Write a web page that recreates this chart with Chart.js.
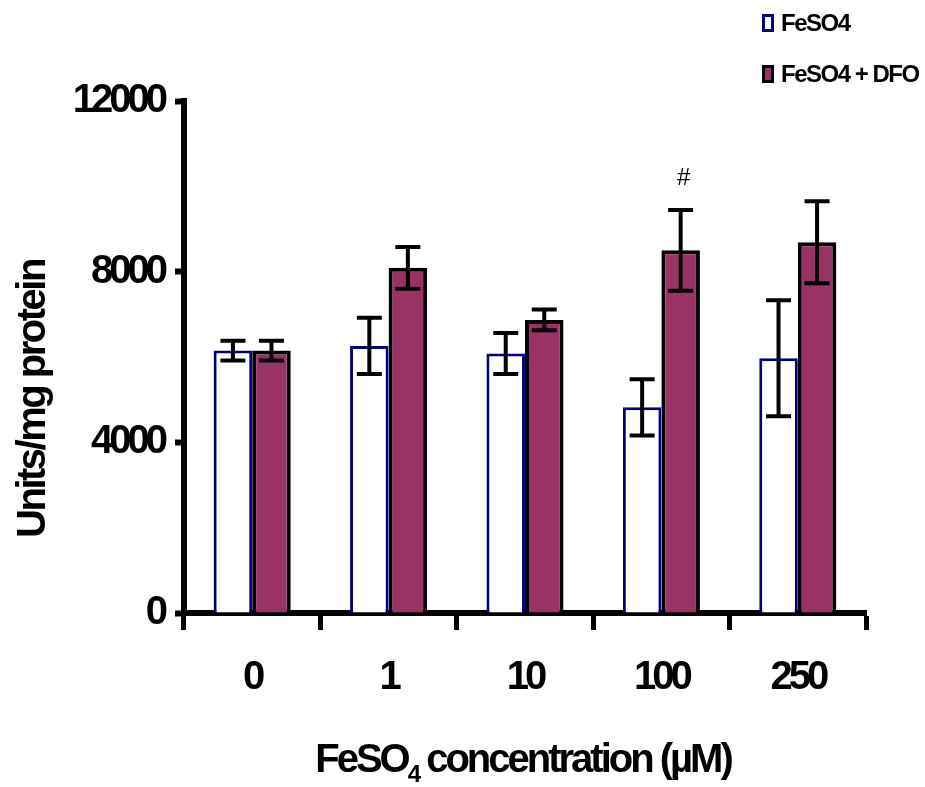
<!DOCTYPE html>
<html>
<head>
<meta charset="utf-8">
<script src="https://cdn.jsdelivr.net/npm/chart.js@4/dist/chart.umd.min.js"></script>
<style>
  html, body { margin:0; padding:0; background:#fff; }
  canvas { display:block; }
</style>
</head>
<body>
<canvas id="chart" width="925" height="787"></canvas>
<script>
// données
const categories  = ['0', '1', '10', '100', '250'];
const feso4Values = [6150, 6260, 6080, 4820, 5970];
const feso4Errors = [230, 660, 480, 660, 1360];
const dfoValues   = [6150, 8090, 6870, 8500, 8690];
const dfoErrors   = [230, 490, 245, 945, 960];
const dfoMarks    = ['', '', '', '#', ''];
const yTicks      = [0, 4000, 8000, 12000];
const seriesNames = ['FeSO4', 'FeSO4 + DFO'];

const FONT = "'Liberation Sans', Arial, Helvetica, sans-serif";
const NAVY = '#000080';
const PLUM = '#993366';

function setSpacing(ctx, px){ if ('letterSpacing' in ctx) ctx.letterSpacing = px; }

// espacement serré des lettres (comme la figure)
const spacingPlugin = {
  id: 'spacing',
  beforeUpdate(chart){ setSpacing(chart.ctx, '-4px'); },
  beforeDraw(chart){ setSpacing(chart.ctx, '-4px'); }
};

// barres d'erreur + annotation "#"
const errorBars = {
  id: 'errorBars',
  afterDatasetsDraw(chart){
    const ctx = chart.ctx, y = chart.scales.y;
    const errs = [feso4Errors, dfoErrors];
    const vals = [feso4Values, dfoValues];
    ctx.save();
    ctx.strokeStyle = '#000';
    ctx.lineWidth = 4;
    ctx.lineCap = 'butt';
    chart.data.datasets.forEach((ds, di) => {
      chart.getDatasetMeta(di).data.forEach((bar, i) => {
        const top = y.getPixelForValue(vals[di][i] + errs[di][i]);
        const bot = y.getPixelForValue(vals[di][i] - errs[di][i]);
        const x = bar.x, half = 12.5;
        ctx.beginPath();
        ctx.moveTo(x, top); ctx.lineTo(x, bot);
        ctx.moveTo(x - half, top); ctx.lineTo(x + half, top);
        ctx.moveTo(x - half, bot); ctx.lineTo(x + half, bot);
        ctx.stroke();
        if (di === 1 && dfoMarks[i]) {
          ctx.fillStyle = '#000';
          ctx.font = '24px ' + FONT;
          setSpacing(ctx, '0px');
          ctx.textAlign = 'center';
          ctx.textBaseline = 'middle';
          ctx.fillText(dfoMarks[i], x + 3, top - 32);
        }
      });
    });
    ctx.restore();
  }
};

// titres des axes et légende
const decorations = {
  id: 'decorations',
  afterDraw(chart){
    const ctx = chart.ctx, area = chart.chartArea;
    ctx.save();
    ctx.fillStyle = '#000';

    // titre axe Y
    ctx.save();
    setSpacing(ctx, '-2.5px');
    ctx.translate(34, 399);
    ctx.rotate(-Math.PI / 2);
    ctx.font = 'bold 40px ' + FONT;
    ctx.textAlign = 'center';
    ctx.textBaseline = 'middle';
    ctx.fillText('Units/mg protein', 0, 0);
    ctx.restore();

    // titre axe X avec indice
    setSpacing(ctx, '-3px');
    const big = 'bold 40px ' + FONT, small = 'bold 24px ' + FONT;
    const p1 = 'FeSO', p2 = '4', p3 = ' concentration (\u00B5M)';
    ctx.font = big; const w1 = ctx.measureText(p1).width, w3 = ctx.measureText(p3).width;
    ctx.font = small; const w2 = ctx.measureText(p2).width;
    let x = (area.left + area.right) / 2 - (w1 + w2 + w3) / 2 - 2;
    const base = 772;
    ctx.textAlign = 'left';
    ctx.textBaseline = 'alphabetic';
    ctx.font = big; ctx.fillText(p1, x, base); x += w1;
    ctx.font = small; ctx.fillText(p2, x, base + 10); x += w2;
    ctx.font = big; ctx.fillText(p3, x, base);

    // légende
    ctx.font = 'bold 24px ' + FONT;
    setSpacing(ctx, '-1.5px');
    ctx.textBaseline = 'middle';
    chart.data.datasets.forEach((ds, i) => {
      const cy = 23 + i * 51;
      ctx.fillStyle = ds.backgroundColor;
      ctx.fillRect(762, cy - 9, 12, 18);
      ctx.strokeStyle = ds.borderColor;
      ctx.lineWidth = 3;
      ctx.strokeRect(763.5, cy - 7.5, 9, 15);
      ctx.fillStyle = '#000';
      ctx.fillText(seriesNames[i], 781, cy + 1);
    });
    ctx.restore();
  }
};

new Chart(document.getElementById('chart'), {
  type: 'bar',
  data: {
    labels: categories,
    datasets: [
      { label: seriesNames[0], data: feso4Values, backgroundColor: '#ffffff',
        borderColor: NAVY, borderWidth: 3, borderSkipped: 'start' },
      { label: seriesNames[1], data: dfoValues, backgroundColor: PLUM,
        borderColor: '#000000', borderWidth: 4, borderSkipped: 'start' }
    ]
  },
  options: {
    responsive: false,
    animation: false,
    devicePixelRatio: 1,
    categoryPercentage: 0.565,
    barPercentage: 1.0,
    layout: { padding: { left: 0, right: 59, top: 101, bottom: 0 } },
    plugins: { legend: { display: false }, tooltip: { enabled: false } },
    scales: {
      x: {
        grid: { display: true, drawOnChartArea: false, offset: true,
                tickLength: 17, tickWidth: 5, tickColor: '#000' },
        border: { display: true, color: '#000', width: 6 },
        ticks: { color: '#000', padding: 24, font: { family: FONT, size: 40, weight: 'bold' } },
        afterFit(s){ s.height = 174; }
      },
      y: {
        min: 0, max: 12000,
        afterBuildTicks(s){ s.ticks = yTicks.map(v => ({ value: v })); },
        grid: { display: true, drawOnChartArea: false,
                tickLength: 9, tickWidth: 6, tickColor: '#000' },
        border: { display: true, color: '#000', width: 6 },
        ticks: { color: '#000', padding: 11, font: { family: FONT, size: 40, weight: 'bold' },
                 callback: v => String(v) },
        afterFit(s){ s.width = 184; }
      }
    }
  },
  plugins: [spacingPlugin, errorBars, decorations]
});
</script>
</body>
</html>
